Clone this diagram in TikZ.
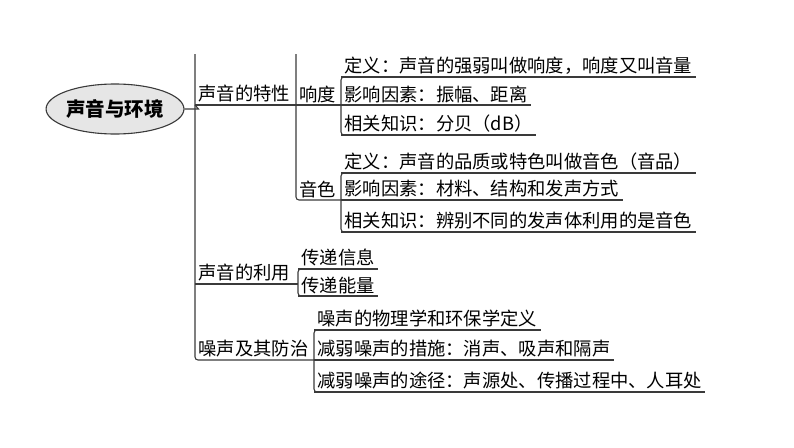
\documentclass[tikz,border=0pt]{standalone}
\usepackage{fontspec}
\newfontfamily\cjk{Noto Sans CJK SC}
\usetikzlibrary{shapes.geometric}
\definecolor{linec}{HTML}{3A3A3A}
\definecolor{rootfill}{HTML}{E6E6E6}
\begin{document}
\begin{tikzpicture}[x=1pt,y=-1pt,
  lbl/.style={font=\cjk\fontsize{18.3}{21}\selectfont, inner xsep=3.5pt, inner ysep=2.5pt, anchor=south west, outer sep=0pt},
  ln/.style={draw=linec, line width=1.1pt},
  brk/.style={ln, rounded corners=3pt},
  root/.style={ellipse, draw=linec, fill=rootfill, line width=1.1pt, minimum width=123pt, minimum height=50pt, font=\cjk\bfseries\fontsize{19.5}{22}\selectfont, inner sep=0pt}]
\useasboundingbox (0,0) rectangle (794,447);
% nodes
\node[root] (root) at (115,109) {声音与环境};
\coordinate (top1) at (195,54);
\coordinate (top2) at (296,54);
\node[lbl] (s1) at (195,105) {声音的特性};
\node[lbl] (s2) at (195,284) {声音的利用};
\node[lbl] (s3) at (195,360) {噪声及其防治};
\node[lbl] (xd) at (296,105) {响度};
\node[lbl] (ys) at (296,200) {音色};
\node[lbl] (d1) at (341,77) {定义：声音的强弱叫做响度，响度又叫音量};
\node[lbl] (d2) at (341,105) {影响因素：振幅、距离};
\node[lbl] (d3) at (341,135) {相关知识：分贝（dB）};
\node[lbl] (e1) at (341,173) {定义：声音的品质或特色叫做音色（音品）};
\node[lbl] (e2) at (341,200) {影响因素：材料、结构和发声方式};
\node[lbl] (e3) at (341,232) {相关知识：辨别不同的发声体利用的是音色};
\node[lbl] (u1) at (298,269) {传递信息};
\node[lbl] (u2) at (298,296) {传递能量};
\node[lbl] (n1) at (314,330) {噪声的物理学和环保学定义};
\node[lbl] (n2) at (314,360) {减弱噪声的措施：消声、吸声和隔声};
\node[lbl] (n3) at (314,392) {减弱噪声的途径：声源处、传播过程中、人耳处};
% connectors
\draw[ln] (root.east) -- ++(14,0) -- (s1.south west);
\draw[brk] (top1) -- (s3.south west) -- (s3.south west -| n2.south west);
\draw[ln] (s1.south west) -- (s1.south west -| d2.south west);
\draw[ln] (s2.south west) -- (s2.south west -| u1.south west);
\draw[brk] (top2) -- (ys.south west) -- (ys.south west -| e2.south west);
% brackets
\draw[brk] ([xshift=8pt]d1.south west) -- (d1.south west) -- (d3.south west) -- ([xshift=8pt]d3.south west);
\draw[brk] ([xshift=8pt]e1.south west) -- (e1.south west) -- (e3.south west) -- ([xshift=8pt]e3.south west);
\draw[brk] ([xshift=8pt]u1.south west) -- (u1.south west) -- (u2.south west) -- ([xshift=8pt]u2.south west);
\draw[brk] ([xshift=8pt]n1.south west) -- (n1.south west) -- (n3.south west) -- ([xshift=8pt]n3.south west);
% underlines
\foreach \n in {d1,d2,d3,e1,e2,e3,u1,u2,n1,n2,n3}
  \draw[ln] (\n.south west) -- (\n.south east);
\end{tikzpicture}
\end{document}
